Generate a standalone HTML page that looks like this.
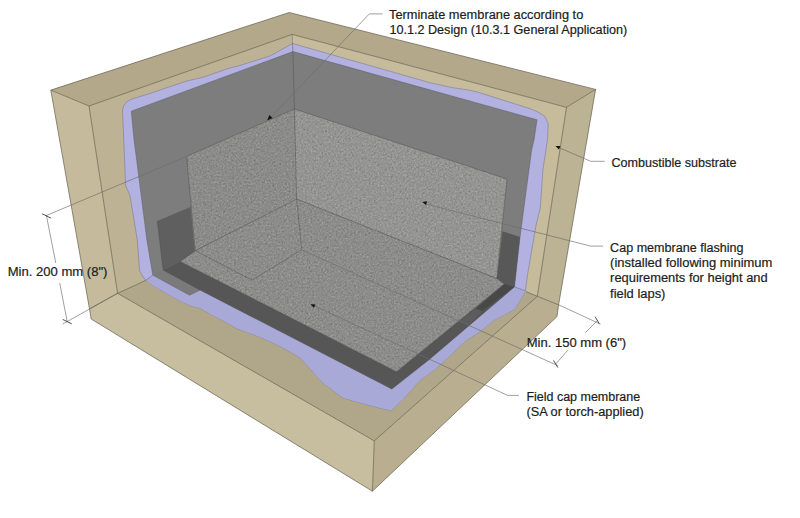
<!DOCTYPE html>
<html><head><meta charset="utf-8">
<style>
html,body{margin:0;padding:0;background:#fff;width:800px;height:518px;overflow:hidden}
svg{display:block}
text{font-family:"Liberation Sans",sans-serif;font-size:12.5px;fill:#1c1c1c;stroke:#1c1c1c;stroke-width:0.2px}
</style></head><body>
<svg width="800" height="518" viewBox="0 0 800 518">
<defs>
<filter id="grain" x="0" y="0" width="100%" height="100%" color-interpolation-filters="sRGB">
<feTurbulence type="fractalNoise" baseFrequency="0.55" numOctaves="2" seed="7" result="n"/>
<feColorMatrix type="matrix" values="0.66 0.66 0.66 0 -0.5  0.66 0.66 0.66 0 -0.5  0.66 0.66 0.66 0 -0.5  0 0 0 0 0.2" in="n"/>
<feComposite in2="SourceAlpha" operator="in"/>
</filter>
<clipPath id="floorclip"><polygon points="145.75,280.4 152.75,275.1 296.6,199.1 514.6,286.9 525.4,290.9 560,300 400,430 100,320"/></clipPath>
<clipPath id="granclip"><polygon points="186.5,156.5 294.4,108.9 507.0,179.0 496.8,278.5 504.2,283.9 396.5,371.7 180.2,261.4 195.3,250.7"/></clipPath>
</defs>
<rect width="800" height="518" fill="#fff"/>
<polygon fill="#b3a98a" points="50.8,90.1 289.2,12.5 595.6,89.4 566.5,107.3 292.2,34.4 89.0,106.0"/>
<polygon fill="#c5bb9c" points="50.8,90.1 89.0,106.0 117.6,293.3 89.5,308.9"/>
<polygon fill="#c7bd9f" points="89.5,308.9 117.6,293.3 374.3,440.9 372.4,491.2 91.2,319.0"/>
<polygon fill="#bcb294" points="595.6,89.4 566.5,107.3 537.3,296.3 558.6,304.8"/>
<polygon fill="#b9ae90" points="374.3,440.9 537.3,296.3 558.6,304.8 557.0,316.6 372.4,491.2"/>
<polygon fill="#bdb394" points="89.0,106.0 292.2,34.4 296.6,199.1 145.8,280.4 117.6,293.3"/>
<polygon fill="#c6bc9c" points="292.2,34.4 566.5,107.3 537.3,296.3 526.0,291.6 296.6,199.1"/>
<polygon fill="#b0a68a" points="117.6,293.3 145.8,280.4 300.0,230.0 526.0,291.6 537.3,296.3 374.3,440.9"/>
<polygon fill="#b2b1e0" stroke="#6e6c88" stroke-width="0.6" stroke-opacity="0.8" points="122.5,110.5 123.5,106.0 127.0,101.5 133.0,98.5 137.0,97.5 150.0,93.4 186.0,81.2 204.0,77.0 228.0,68.5 240.0,65.4 270.0,56.0 292.6,43.5 430.0,82.7 452.6,87.7 470.0,90.2 480.0,92.8 529.5,108.5 537.0,111.5 544.5,116.0 548.2,123.5 547.5,140.0 542.9,170.0 540.3,208.0 536.0,225.4 527.5,275.0 525.4,290.9 514.6,309.2 494.3,320.0 480.0,331.6 466.4,340.0 440.2,364.8 430.0,372.9 420.5,379.7 411.9,389.3 403.2,399.0 391.1,410.5 380.0,408.1 360.4,402.8 342.8,397.8 322.8,382.7 300.0,357.6 282.6,347.6 268.0,340.5 260.0,337.0 247.9,332.4 237.1,328.6 223.2,320.8 211.6,314.7 200.0,308.1 196.5,307.2 193.0,306.6 182.5,302.2 168.5,294.4 156.2,287.4 145.8,280.4 143.1,276.9 139.6,270.8 137.3,240.0 134.1,220.7 129.9,195.2 125.6,185.7"/>
<g clip-path="url(#floorclip)"><polygon fill="#a9a9d8" points="122.5,110.5 123.5,106.0 127.0,101.5 133.0,98.5 137.0,97.5 150.0,93.4 186.0,81.2 204.0,77.0 228.0,68.5 240.0,65.4 270.0,56.0 292.6,43.5 430.0,82.7 452.6,87.7 470.0,90.2 480.0,92.8 529.5,108.5 537.0,111.5 544.5,116.0 548.2,123.5 547.5,140.0 542.9,170.0 540.3,208.0 536.0,225.4 527.5,275.0 525.4,290.9 514.6,309.2 494.3,320.0 480.0,331.6 466.4,340.0 440.2,364.8 430.0,372.9 420.5,379.7 411.9,389.3 403.2,399.0 391.1,410.5 380.0,408.1 360.4,402.8 342.8,397.8 322.8,382.7 300.0,357.6 282.6,347.6 268.0,340.5 260.0,337.0 247.9,332.4 237.1,328.6 223.2,320.8 211.6,314.7 200.0,308.1 196.5,307.2 193.0,306.6 182.5,302.2 168.5,294.4 156.2,287.4 145.8,280.4 143.1,276.9 139.6,270.8 137.3,240.0 134.1,220.7 129.9,195.2 125.6,185.7"/></g>
<polygon fill="#7d7d7d" stroke="#5a5a66" stroke-width="0.5" points="131.3,111.2 292.9,51.6 537.0,119.8 534.0,140.0 531.6,150.0 520.0,237.0 514.5,286.8 429.3,359.4 391.8,389.0 200.0,290.0 189.5,295.2 152.8,275.1 146.9,240.0 134.1,140.0"/>
<polygon fill="#7a7a7a" points="152.8,275.1 163.2,269.9 200.0,290.0 189.5,295.2"/>
<polygon fill="#5f5f5f" points="157.3,221.0 190.6,207.0 194.8,253.3 180.2,261.4 163.2,269.9"/>
<polygon fill="#585858" points="502.6,231.2 520.0,237.0 514.5,286.8 504.2,283.9 496.8,278.5"/>
<polygon fill="#565656" points="163.2,269.9 180.2,261.4 396.5,371.7 504.2,283.9 514.5,286.8 429.3,359.4 391.8,389.0 200.0,290.0"/>
<polygon fill="#5c5c5c" points="476.4,308.5 482.5,310.9 468.6,324.8 459.4,320.9"/>
<polygon fill="#484848" points="476.4,308.5 482.5,310.9 514.5,286.8 504.2,283.9"/>
<polygon fill="#8f8f8d" points="186.5,156.5 294.4,108.9 296.6,199.1 195.3,250.7"/>
<polygon fill="#9a9a98" points="294.4,108.9 507.0,179.0 496.8,278.5 296.6,199.1"/>
<polygon fill="#90908e" points="296.6,199.1 496.8,278.5 504.2,283.9 396.5,371.7 180.2,261.4 195.3,250.7"/>
<g clip-path="url(#granclip)"><rect x="170" y="100" width="350" height="280" fill="#000" filter="url(#grain)"/></g>
<polyline fill="none" stroke="#5a5546" stroke-width="0.65" points="50.8,90.1 289.2,12.5 595.6,89.4"/>
<polyline fill="none" stroke="#5a5546" stroke-width="0.65" points="89.0,106.0 292.2,34.4 566.5,107.3"/>
<polyline fill="none" stroke="#5a5546" stroke-width="0.65" points="50.8,90.1 89.0,106.0"/>
<polyline fill="none" stroke="#5a5546" stroke-width="0.65" points="595.6,89.4 566.5,107.3"/>
<polyline fill="none" stroke="#5a5546" stroke-width="0.65" points="50.8,90.1 89.5,308.9 91.2,319.0 372.4,491.2 557.0,316.6 558.6,304.8 595.6,89.4"/>
<polyline fill="none" stroke="#5a5546" stroke-width="0.65" points="89.0,106.0 117.6,293.3"/>
<polyline fill="none" stroke="#5a5546" stroke-width="0.65" points="566.5,107.3 537.3,296.3"/>
<polyline fill="none" stroke="#5a5546" stroke-width="0.65" points="89.5,308.9 117.6,293.3 374.3,440.9 537.3,296.3 558.6,304.8"/>
<polyline fill="none" stroke="#5a5546" stroke-width="0.65" points="374.3,440.9 372.4,491.2"/>
<polyline fill="none" stroke="#5a5546" stroke-width="0.65" points="117.6,293.3 145.8,280.4"/>
<polyline fill="none" stroke="#5a5546" stroke-width="0.65" points="537.3,296.3 526.0,291.6"/>
<polyline fill="none" stroke="#6e6c88" stroke-width="0.6" points="145.8,280.4 152.8,275.1"/>
<polyline fill="none" stroke="#6e6c88" stroke-width="0.6" points="514.6,286.9 525.4,290.9"/>
<polyline fill="none" stroke="#4a4a4a" stroke-width="0.55" stroke-opacity="0.8" points="292.2,34.4 292.9,51.6"/>
<polyline fill="none" stroke="#4a4a4a" stroke-width="0.55" stroke-opacity="0.8" points="292.9,51.6 294.4,108.9"/>
<polyline fill="none" stroke="#4a4a4a" stroke-width="0.55" stroke-opacity="0.8" points="294.4,108.9 296.6,199.1"/>
<polyline fill="none" stroke="#4a4a4a" stroke-width="0.55" stroke-opacity="0.8" points="195.3,250.7 296.6,199.1 496.8,278.5"/>
<polyline fill="none" stroke="#4a4a4a" stroke-width="0.55" stroke-opacity="0.8" points="195.3,250.7 252.0,280.1 301.7,249.7 296.6,199.1"/>
<polyline fill="none" stroke="#4a4a4a" stroke-width="0.55" stroke-opacity="0.8" points="195.3,250.7 180.2,261.4"/>
<polyline fill="none" stroke="#4a4a4a" stroke-width="0.55" stroke-opacity="0.8" points="186.5,156.5 294.4,108.9 507.0,179.0 496.8,278.5 504.2,283.9 396.5,371.7 180.2,261.4"/>
<polyline fill="none" stroke="#4a4a4a" stroke-width="0.55" stroke-opacity="0.8" points="186.5,156.5 195.3,250.7"/>
<polyline fill="none" stroke="#4a4a4a" stroke-width="0.55" stroke-opacity="0.8" points="157.3,221.0 163.2,269.9 200.0,290.0"/>
<polyline fill="none" stroke="#6c6c6c" stroke-width="0.65" points="46.4,215.5 186.5,156.5"/>
<polyline fill="none" stroke="#6c6c6c" stroke-width="0.65" points="46.4,215.5 55.8,263.0"/>
<polyline fill="none" stroke="#6c6c6c" stroke-width="0.65" points="59.7,283.0 67.2,321.6"/>
<polyline fill="none" stroke="#6c6c6c" stroke-width="0.65" points="62.7,324.1 117.6,293.3"/>
<polyline fill="none" stroke="#6c6c6c" stroke-width="0.65" points="301.7,249.7 557.8,365.7"/>
<polyline fill="none" stroke="#6c6c6c" stroke-width="0.65" points="558.6,304.8 600.6,324.2"/>
<polyline fill="none" stroke="#6c6c6c" stroke-width="0.65" points="597.4,320.6 585.4,332.6"/>
<polyline fill="none" stroke="#6c6c6c" stroke-width="0.65" points="567.8,350.2 555.7,364.0"/>
<polyline fill="none" stroke="#6c6c6c" stroke-width="0.65" points="269.3,118.9 369.3,13.9 382.5,13.9"/>
<polyline fill="none" stroke="#6c6c6c" stroke-width="0.65" points="556.7,146.6 590.6,161.3 604.8,161.3"/>
<polyline fill="none" stroke="#6c6c6c" stroke-width="0.65" points="424.3,203.6 590.6,246.1 603.0,246.1"/>
<polyline fill="none" stroke="#6c6c6c" stroke-width="0.65" points="311.7,304.7 507.6,395.4 518.9,395.4"/>
<polyline fill="none" stroke="#333" stroke-width="0.85" points="42.1,213.8 51.1,218.2"/>
<polyline fill="none" stroke="#333" stroke-width="0.85" points="62.7,319.4 71.7,323.8"/>
<polyline fill="none" stroke="#333" stroke-width="0.85" points="595.1,316.7 599.4,323.9"/>
<polyline fill="none" stroke="#333" stroke-width="0.85" points="553.5,360.4 557.9,367.6"/>
<polygon fill="#111" points="267.3,120.3 272.5,118.1 269.3,115.0"/>
<polygon fill="#111" points="555.5,146.0 558.9,149.5 560.4,146.1"/>
<polygon fill="#111" points="422.2,202.0 426.1,205.0 427.0,201.3"/>
<polygon fill="#111" points="310.5,304.2 313.8,307.8 315.4,304.4"/>
<text x="389.1" y="18.8" textLength="194.2" lengthAdjust="spacingAndGlyphs">Terminate membrane according to</text>
<text x="389.4" y="33.8" textLength="237.8" lengthAdjust="spacingAndGlyphs">10.1.2 Design (10.3.1 General Application)</text>
<text x="611.4" y="166.8" textLength="125.0" lengthAdjust="spacingAndGlyphs">Combustible substrate</text>
<text x="610.1" y="251.8" textLength="133.4" lengthAdjust="spacingAndGlyphs">Cap membrane flashing</text>
<text x="610.1" y="267.0" textLength="162.3" lengthAdjust="spacingAndGlyphs">(installed following minimum</text>
<text x="610.1" y="282.3" textLength="157.6" lengthAdjust="spacingAndGlyphs">requirements for height and</text>
<text x="610.1" y="297.6" textLength="55.3" lengthAdjust="spacingAndGlyphs">field laps)</text>
<text x="526.7" y="347.0" textLength="99.5" lengthAdjust="spacingAndGlyphs">Min. 150 mm (6&quot;)</text>
<text x="526.4" y="400.8" textLength="113.8" lengthAdjust="spacingAndGlyphs">Field cap membrane</text>
<text x="526.4" y="416.0" textLength="117.3" lengthAdjust="spacingAndGlyphs">(SA or torch-applied)</text>
<text x="7.7" y="275.8" textLength="99.8" lengthAdjust="spacingAndGlyphs">Min. 200 mm (8&quot;)</text>
</svg>
</body></html>
